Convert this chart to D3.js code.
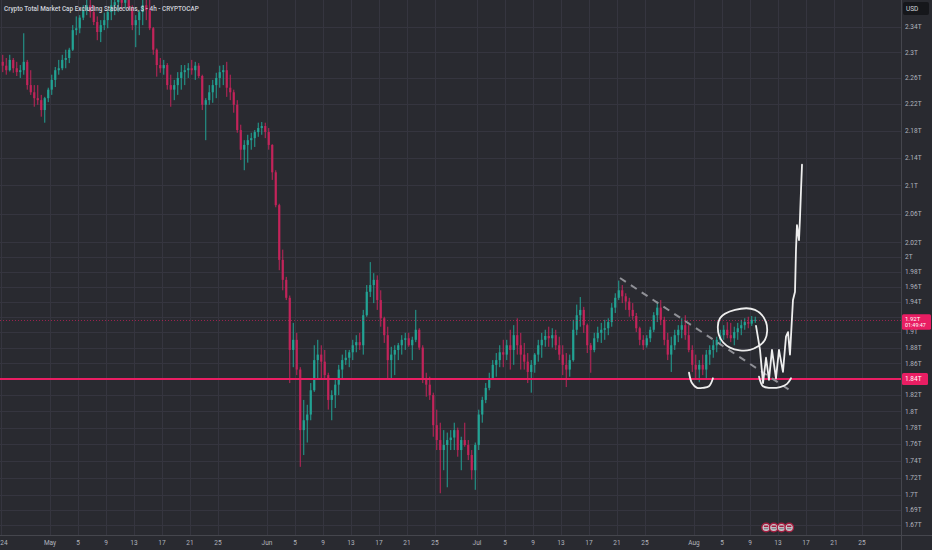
<!DOCTYPE html>
<html>
<head>
<meta charset="utf-8">
<script src="https://cdn.jsdelivr.net/npm/d3@7"></script>
<style>
html, body { margin: 0; padding: 0; background: #292a30; }
svg { display: block; font-family: Roboto, "Noto Sans", sans-serif; }
</style>
</head>
<body>
<svg id="chart" width="932" height="550"></svg>
<script>
// 12h candles, first one opens 2024-04-24 00:00 UTC  [open, high, low, close] in trillions USD
const firstCandle = "2024-04-24T00:00:00Z";
const ohlc = [
[2.285,2.296,2.269,2.279],[2.279,2.291,2.265,2.272],[2.272,2.296,2.270,2.288],[2.288,2.291,2.268,2.275],
[2.275,2.285,2.263,2.269],[2.269,2.280,2.260,2.272],[2.272,2.330,2.265,2.285],[2.285,2.288,2.242,2.249],
[2.249,2.272,2.234,2.238],[2.238,2.249,2.216,2.229],[2.229,2.249,2.219,2.226],[2.226,2.234,2.201,2.211],
[2.211,2.231,2.192,2.229],[2.229,2.245,2.223,2.242],[2.242,2.265,2.234,2.257],[2.257,2.277,2.246,2.272],
[2.272,2.288,2.265,2.275],[2.275,2.296,2.272,2.288],[2.288,2.304,2.275,2.291],[2.291,2.307,2.283,2.304],
[2.304,2.343,2.302,2.335],[2.335,2.357,2.327,2.338],[2.338,2.359,2.330,2.355],[2.355,2.375,2.351,2.367],
[2.367,2.384,2.359,2.375],[2.375,2.384,2.355,2.364],[2.364,2.375,2.343,2.348],[2.348,2.357,2.319,2.332],
[2.332,2.351,2.316,2.343],[2.343,2.363,2.335,2.351],[2.351,2.367,2.338,2.364],[2.364,2.384,2.351,2.375],
[2.375,2.392,2.359,2.380],[2.380,2.389,2.364,2.384],[2.384,2.392,2.367,2.379],[2.379,2.392,2.370,2.384],
[2.384,2.389,2.367,2.370],[2.370,2.375,2.335,2.343],[2.343,2.359,2.308,2.351],[2.351,2.367,2.327,2.364],
[2.364,2.384,2.343,2.375],[2.375,2.389,2.351,2.367],[2.367,2.384,2.335,2.338],[2.338,2.340,2.296,2.304],
[2.304,2.306,2.262,2.280],[2.280,2.291,2.268,2.275],[2.275,2.288,2.265,2.280],[2.280,2.283,2.242,2.249],
[2.249,2.265,2.216,2.242],[2.242,2.257,2.226,2.249],[2.249,2.269,2.234,2.260],[2.260,2.280,2.242,2.269],
[2.269,2.280,2.249,2.272],[2.272,2.283,2.260,2.275],[2.275,2.288,2.265,2.272],[2.272,2.285,2.257,2.279],
[2.279,2.283,2.260,2.263],[2.263,2.265,2.211,2.219],[2.219,2.229,2.166,2.226],[2.226,2.249,2.219,2.238],
[2.238,2.257,2.222,2.249],[2.249,2.268,2.229,2.260],[2.260,2.279,2.245,2.269],[2.269,2.280,2.249,2.272],
[2.272,2.285,2.231,2.245],[2.245,2.265,2.226,2.238],[2.238,2.242,2.207,2.219],[2.219,2.226,2.177,2.181],
[2.181,2.189,2.137,2.152],[2.152,2.166,2.122,2.159],[2.159,2.174,2.133,2.166],[2.166,2.177,2.152,2.169],
[2.169,2.181,2.156,2.178],[2.178,2.192,2.171,2.184],[2.184,2.193,2.174,2.187],[2.187,2.192,2.169,2.178],
[2.178,2.184,2.152,2.159],[2.159,2.160,2.108,2.119],[2.119,2.122,2.069,2.072],[2.072,2.074,1.982,1.996],
[1.996,2.010,1.955,1.969],[1.969,1.973,1.942,1.945],[1.945,1.948,1.835,1.877],[1.877,1.912,1.855,1.890],
[1.890,1.899,1.845,1.852],[1.852,1.855,1.733,1.777],[1.777,1.814,1.747,1.789],[1.789,1.808,1.762,1.796],
[1.796,1.835,1.789,1.826],[1.826,1.883,1.824,1.864],[1.864,1.890,1.839,1.871],[1.871,1.883,1.841,1.862],
[1.862,1.877,1.839,1.845],[1.845,1.848,1.802,1.814],[1.814,1.826,1.789,1.820],[1.820,1.841,1.804,1.833],
[1.833,1.858,1.820,1.852],[1.852,1.871,1.839,1.864],[1.864,1.877,1.858,1.867],[1.867,1.877,1.855,1.874],
[1.874,1.890,1.864,1.883],[1.883,1.896,1.874,1.887],[1.887,1.899,1.877,1.883],[1.883,1.929,1.871,1.922],
[1.922,1.962,1.920,1.953],[1.953,1.993,1.946,1.962],[1.962,1.978,1.938,1.969],[1.969,1.975,1.929,1.942],
[1.942,1.955,1.907,1.918],[1.918,1.920,1.886,1.896],[1.896,1.907,1.839,1.864],[1.864,1.881,1.839,1.871],
[1.871,1.883,1.845,1.877],[1.877,1.886,1.864,1.883],[1.883,1.896,1.871,1.890],[1.890,1.899,1.877,1.892],
[1.892,1.899,1.881,1.883],[1.883,1.894,1.864,1.890],[1.890,1.929,1.887,1.903],[1.903,1.905,1.877,1.880],
[1.880,1.883,1.835,1.841],[1.841,1.848,1.818,1.833],[1.833,1.843,1.814,1.820],[1.820,1.823,1.769,1.783],
[1.783,1.802,1.753,1.765],[1.765,1.786,1.702,1.753],[1.753,1.777,1.729,1.759],[1.759,1.774,1.709,1.765],
[1.765,1.777,1.753,1.768],[1.768,1.786,1.753,1.777],[1.777,1.780,1.745,1.753],[1.753,1.769,1.729,1.765],
[1.765,1.786,1.757,1.759],[1.759,1.765,1.741,1.747],[1.747,1.753,1.718,1.729],[1.729,1.762,1.706,1.759],
[1.759,1.802,1.753,1.796],[1.796,1.818,1.786,1.814],[1.814,1.835,1.810,1.829],[1.829,1.848,1.826,1.841],
[1.841,1.864,1.839,1.858],[1.858,1.873,1.843,1.864],[1.864,1.883,1.855,1.874],[1.874,1.890,1.855,1.871],
[1.871,1.890,1.864,1.883],[1.883,1.903,1.852,1.877],[1.877,1.909,1.858,1.896],[1.896,1.918,1.871,1.883],
[1.883,1.899,1.852,1.871],[1.871,1.886,1.852,1.862],[1.862,1.873,1.835,1.849],[1.849,1.864,1.823,1.858],
[1.858,1.873,1.848,1.871],[1.871,1.890,1.862,1.883],[1.883,1.899,1.867,1.890],[1.890,1.903,1.881,1.895],
[1.895,1.907,1.881,1.892],[1.892,1.905,1.880,1.896],[1.896,1.903,1.877,1.883],[1.883,1.894,1.864,1.871],
[1.871,1.883,1.845,1.858],[1.858,1.873,1.830,1.852],[1.852,1.871,1.843,1.864],[1.864,1.916,1.862,1.903],
[1.903,1.936,1.896,1.922],[1.922,1.946,1.907,1.929],[1.929,1.933,1.899,1.909],[1.909,1.911,1.873,1.883],
[1.883,1.886,1.848,1.877],[1.877,1.899,1.874,1.892],[1.892,1.907,1.887,1.899],[1.899,1.912,1.886,1.903],
[1.903,1.916,1.890,1.905],[1.905,1.918,1.896,1.913],[1.913,1.938,1.907,1.932],[1.932,1.951,1.925,1.945],
[1.945,1.968,1.942,1.955],[1.955,1.962,1.938,1.947],[1.947,1.951,1.929,1.940],[1.940,1.945,1.920,1.929],
[1.929,1.938,1.916,1.921],[1.921,1.925,1.900,1.905],[1.905,1.907,1.883,1.890],[1.890,1.896,1.877,1.883],
[1.883,1.896,1.880,1.892],[1.892,1.907,1.887,1.903],[1.903,1.926,1.900,1.922],[1.922,1.940,1.913,1.932],
[1.932,1.942,1.909,1.916],[1.916,1.920,1.883,1.890],[1.890,1.899,1.864,1.871],[1.871,1.894,1.849,1.883],
[1.883,1.903,1.877,1.896],[1.896,1.909,1.887,1.903],[1.903,1.918,1.892,1.909],[1.909,1.922,1.890,1.896],
[1.896,1.909,1.874,1.877],[1.877,1.883,1.849,1.858],[1.858,1.871,1.841,1.852],[1.852,1.864,1.836,1.858],
[1.858,1.871,1.845,1.852],[1.852,1.877,1.839,1.871],[1.871,1.883,1.858,1.877],[1.877,1.890,1.867,1.883],
[1.883,1.894,1.874,1.890],[1.890,1.903,1.883,1.896],[1.896,1.909,1.890,1.903],[1.903,1.913,1.892,1.896],
[1.896,1.912,1.887,1.892],[1.892,1.907,1.883,1.900],[1.900,1.912,1.890,1.905],[1.905,1.916,1.896,1.909],
[1.909,1.918,1.903,1.913],[1.913,1.920,1.905,1.911],[1.911,1.921,1.908,1.916],[1.916,1.920,1.912,1.916]
];

const yTickValues = [2.34,2.3,2.26,2.22,2.18,2.14,2.1,2.06,2.02,2.0,1.98,1.96,1.94,1.92,1.9,1.88,1.86,1.84,1.82,1.8,1.78,1.76,1.74,1.72,1.7,1.683,1.666];
const yTickLabels = ["2.34T","2.3T","2.26T","2.22T","2.18T","2.14T","2.1T","2.06T","2.02T","2T","1.98T","1.96T","1.94T","1.92T","1.9T","1.88T","1.86T","1.84T","1.82T","1.8T","1.78T","1.76T","1.74T","1.72T","1.7T","1.69T","1.67T"];

const xTickDates = ["2024-04-24","2024-05-01","2024-05-05","2024-05-09","2024-05-13","2024-05-17","2024-05-21","2024-05-25",
  "2024-06-01","2024-06-05","2024-06-09","2024-06-13","2024-06-17","2024-06-21","2024-06-25",
  "2024-07-01","2024-07-05","2024-07-09","2024-07-13","2024-07-17","2024-07-21","2024-07-25",
  "2024-08-01","2024-08-05","2024-08-09","2024-08-13","2024-08-17","2024-08-21","2024-08-25"];
const xTickLabels = ["24","May","5","9","13","17","21","25","Jun","5","9","13","17","21","25",
  "Jul","5","9","13","17","21","25","Aug","5","9","13","17","21","25"];

// horizontal support level drawn by the author
const supportLevel = [1.84];
const supportLabel = ["1.84T"];
const countdown = "01:49:47";

// hand drawings, [days after 2024-04-24, price]
const trendLine = [[88.43, 1.9715], [112.7, 1.826]];
const leftCup = [[98.29,1.848],[98.71,1.835],[99.43,1.829],[100.29,1.829],[101.14,1.831],[101.71,1.841]];
const rightCup = [[108.29,1.843],[108.86,1.831],[109.86,1.829],[111.29,1.830],[112.29,1.834],[112.86,1.841]];
const loop = [[104.86,1.929],[107.71,1.929],[109.29,1.913],[109.14,1.890],[107.0,1.877],[104.14,1.880],[102.57,1.896],[102.71,1.918]];
const projection = [[107.86,1.908],[108.43,1.877],[108.86,1.835],[109.29,1.867],[109.71,1.839],[110.14,1.877],
  [110.71,1.841],[111.14,1.877],[111.71,1.849],[112.14,1.894],[112.43,1.900],[112.71,1.871],[113.14,1.942],
  [113.43,1.953],[113.57,2.010],[113.71,2.044],[114.0,2.023],[114.14,2.054],[114.29,2.094],[114.43,2.130]];
const eventDays = [109.3, 110.4, 111.5, 112.6];

const title = "Crypto Total Market Cap Excluding Stablecoins, $ - 4h - CRYPTOCAP";

const W = 932, H = 550, plotRight = 901, plotBottom = 535;
const DAY = 864e5, HALF = DAY / 2;
const t0 = new Date(firstCandle).getTime();
const upColor = "#22a394", downColor = "#c2245a", pink = "#e91e63";

const svg = d3.select("#chart");
const x = d3.scaleUtc()
    .domain([new Date(t0), new Date("2024-09-01T00:00:00Z")])
    .range([1, 911]);
const y = d3.scaleLog().domain([1.7, 2.34]).range([495, 27]);
const dayX = d => x(new Date(t0 + d * DAY));
const last = ohlc[ohlc.length - 1][3];

svg.append("rect").attr("width", W).attr("height", H).attr("fill", "#292a30");

svg.append("defs").append("clipPath").attr("id", "plotClip")
    .append("rect").attr("x", 0).attr("y", 0).attr("width", plotRight).attr("height", plotBottom);

// grid
const grid = svg.append("g").attr("clip-path", "url(#plotClip)");
grid.selectAll()
    .data(yTickValues)
    .enter().append("line")
    .attr("x1", 0).attr("x2", plotRight)
    .attr("y1", d => Math.round(y(d)) + 0.5)
    .attr("y2", d => Math.round(y(d)) + 0.5)
    .attr("stroke", "#35353f").attr("stroke-width", 1);
grid.selectAll()
    .data(xTickDates)
    .enter().append("line")
    .attr("x1", d => Math.round(x(new Date(d + "T00:00:00Z"))) + 0.5)
    .attr("x2", d => Math.round(x(new Date(d + "T00:00:00Z"))) + 0.5)
    .attr("y1", 0).attr("y2", plotBottom)
    .attr("stroke", "#35353f").attr("stroke-width", 1);

const plot = svg.append("g").attr("clip-path", "url(#plotClip)");

// candles
const cx = (d, i) => x(new Date(t0 + i * HALF + HALF / 2));
const col = d => d[3] >= d[0] ? upColor : downColor;
plot.selectAll()
    .data(ohlc)
    .enter().append("line")
    .attr("x1", cx).attr("x2", cx)
    .attr("y1", d => y(d[1]))
    .attr("y2", d => y(d[2]))
    .attr("stroke", col).attr("stroke-width", 1);
plot.selectAll()
    .data(ohlc)
    .enter().append("rect")
    .attr("x", (d, i) => cx(d, i) - 1.1)
    .attr("width", 2.2)
    .attr("y", d => y(Math.max(d[0], d[3])))
    .attr("height", d => Math.max(1, Math.abs(y(d[0]) - y(d[3]))))
    .attr("fill", col);

// support line
plot.selectAll()
    .data(supportLevel)
    .enter().append("line")
    .attr("x1", 0).attr("x2", plotRight)
    .attr("y1", d => y(d)).attr("y2", d => y(d))
    .attr("stroke", pink).attr("stroke-width", 2);

// last price dotted line
plot.append("line")
    .attr("x1", 0).attr("x2", plotRight)
    .attr("y1", Math.round(y(last)) + 0.5).attr("y2", Math.round(y(last)) + 0.5)
    .attr("stroke", pink).attr("stroke-opacity", 0.6)
    .attr("stroke-width", 1).attr("stroke-dasharray", "1,2");

// drawings
const pt = d3.line().x(d => dayX(d[0])).y(d => y(d[1]));
plot.append("path")
    .attr("d", pt(trendLine))
    .attr("fill", "none").attr("stroke", "#8f9096")
    .attr("stroke-width", 2).attr("stroke-dasharray", "7,6");

const white = "#eeeeee";
[leftCup, rightCup].forEach(c => {
    plot.append("path")
        .attr("d", pt.curve(d3.curveCatmullRom)(c))
        .attr("fill", "none").attr("stroke", white)
        .attr("stroke-width", 1.8).attr("stroke-linecap", "round");
});
plot.append("path")
    .attr("d", pt.curve(d3.curveCatmullRomClosed)(loop))
    .attr("fill", "none").attr("stroke", white)
    .attr("stroke-width", 1.8);
plot.append("path")
    .attr("d", pt.curve(d3.curveLinear)(projection))
    .attr("fill", "none").attr("stroke", white)
    .attr("stroke-width", 1.8).attr("stroke-linejoin", "round").attr("stroke-linecap", "round");

// axis borders
svg.append("line").attr("x1", plotRight + 0.5).attr("x2", plotRight + 0.5)
    .attr("y1", 0).attr("y2", H).attr("stroke", "#45464d");
svg.append("line").attr("x1", 0).attr("x2", W)
    .attr("y1", plotBottom + 0.5).attr("y2", plotBottom + 0.5).attr("stroke", "#45464d");

// y labels (the ones under a price tag are hidden, as on the platform)
const tagPrices = supportLevel.concat([last]);
svg.append("g").selectAll()
    .data(yTickValues.filter(v => tagPrices.every(p => Math.abs(y(v) - y(p)) > 6)))
    .enter().append("text")
    .attr("x", 905)
    .attr("y", d => y(d))
    .attr("dy", "0.35em")
    .attr("font-size", 6.5)
    .attr("fill", "#b2b5be")
    .text(d => yTickLabels[yTickValues.indexOf(d)]);

// x labels
svg.append("g").selectAll()
    .data(xTickDates)
    .enter().append("text")
    .attr("x", d => Math.max(4, x(new Date(d + "T00:00:00Z"))))
    .attr("y", 545)
    .attr("text-anchor", "middle")
    .attr("font-size", 6.5)
    .attr("fill", "#b2b5be")
    .text((d, i) => xTickLabels[i]);

// price tags
svg.selectAll()
    .data(supportLevel)
    .enter().append("rect")
    .attr("x", 902).attr("y", d => y(d) - 6)
    .attr("width", 26).attr("height", 12).attr("rx", 1.5)
    .attr("fill", pink);
svg.selectAll()
    .data(supportLevel)
    .enter().append("text")
    .attr("x", 905).attr("y", d => y(d)).attr("dy", "0.35em")
    .attr("font-size", 6.5).attr("fill", "#fff")
    .text((d, i) => supportLabel[i]);

svg.append("rect")
    .attr("x", 902).attr("y", y(last) - 5.5)
    .attr("width", 29).attr("height", 15.5).attr("rx", 1.5)
    .attr("fill", pink);
svg.append("text")
    .attr("x", 905).attr("y", y(last) - 0.5).attr("dy", "0.35em")
    .attr("font-size", 6).attr("fill", "#fff")
    .text(d3.format(".2f")(last) + "T");
svg.append("text")
    .attr("x", 905).attr("y", y(last) + 5.8).attr("dy", "0.35em")
    .attr("font-size", 5.4).attr("fill", "#fff")
    .text(countdown);

// USD box
svg.append("rect").attr("x", 903).attr("y", 2).attr("width", 26).attr("height", 13)
    .attr("rx", 2).attr("fill", "#16171b");
svg.append("text").attr("x", 906).attr("y", 8.5).attr("dy", "0.35em")
    .attr("font-size", 6.5).attr("fill", "#d1d4dc").text("USD");

// event markers
const ev = svg.append("g").selectAll()
    .data(eventDays)
    .enter().append("g")
    .attr("transform", d => `translate(${dayX(d)},527.5)`);
ev.append("circle").attr("r", 4.3)
    .attr("fill", "#c9cacf").attr("stroke", "#a51d3f").attr("stroke-width", 1.4);
ev.append("rect").attr("x", -2.2).attr("y", -2).attr("width", 4.4).attr("height", 1.6).attr("fill", "#a51d3f");
ev.append("rect").attr("x", -2.2).attr("y", 0.6).attr("width", 4.4).attr("height", 1.2).attr("fill", "#7d7e86");

// title
svg.append("text")
    .attr("x", 4).attr("y", 8.5)
    .attr("dy", "0.35em")
    .attr("font-size", 6.4)
    .attr("font-weight", 500)
    .attr("fill", "#d1d4dc")
    .text(title);
</script>
</body>
</html>
